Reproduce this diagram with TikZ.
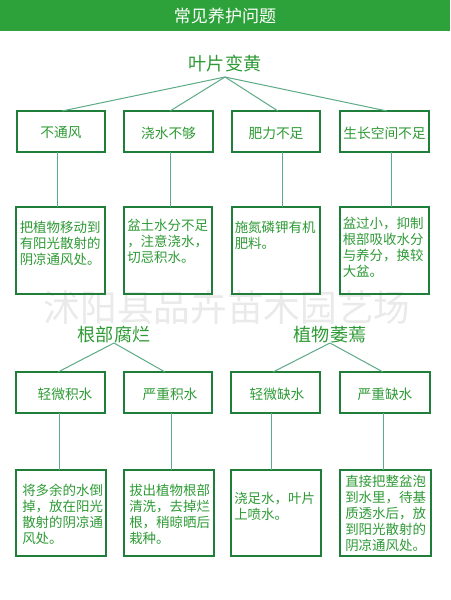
\documentclass[tikz,border=0pt]{standalone}
\usepackage{fontspec}
\setmainfont{Noto Sans CJK SC}
\newfontfamily\cjk{Noto Sans CJK SC}
\definecolor{hdrgreen}{HTML}{2EA23A}
\definecolor{txtgreen}{HTML}{2E9A35}
\definecolor{boxgreen}{HTML}{1F7F3A}
\definecolor{linegreen}{HTML}{5DAA86}
\definecolor{wmgray}{HTML}{EAEAEA}
\begin{document}
\begin{tikzpicture}[x=0.75pt,y=-0.75pt,
  lbl/.style={text=txtgreen,font=\cjk\fontsize{10.3pt}{12pt}\selectfont},
  body/.style={text=txtgreen,font=\cjk\fontsize{10.1pt}{12pt}\selectfont,align=left,anchor=north west,inner sep=0pt},
  head/.style={text=txtgreen,font=\cjk\fontsize{13.6pt}{16pt}\selectfont},
  boxline/.style={draw=boxgreen,line width=1.1pt},
  conn/.style={draw=linegreen,line width=0.75pt}]
\useasboundingbox (0,0) rectangle (450,600);
\fill[white] (0,0) rectangle (450,600);
\fill[hdrgreen] (0,0) rectangle (450,31);
\node[text=white,font=\cjk\fontsize{12.8pt}{15pt}\selectfont] (title) at (225,15.5) {常见养护问题};
% watermark
\node[text=wmgray,font=\cjk\fontsize{27.5pt}{30pt}\selectfont] (wm) at (227,308) {沭阳县品卉苗木园艺场};
% section 1
\node[head] (h1) at (225,64) {叶片变黄};
\coordinate (a1) at (225,77);
% row1 boxes
\draw[boxline] (17,111) rectangle (105,152);
\draw[boxline] (124,111) rectangle (213,152);
\draw[boxline] (232,111) rectangle (320,152);
\draw[boxline] (340,111) rectangle (429,152);
\node[lbl] (b1) at (61,133) {不通风};
\node[lbl] (b2) at (168.5,133) {浇水不够};
\node[lbl] (b3) at (276,133) {肥力不足};
\node[lbl] (b4) at (384.5,133) {生长空间不足};
\coordinate (b1t) at (62,111);
\coordinate (b2t) at (170,111);
\coordinate (b3t) at (278,111);
\coordinate (b4t) at (387,111);
\draw[conn] (a1) -- (b1t);
\draw[conn] (a1) -- (b2t);
\draw[conn] (a1) -- (b3t);
\draw[conn] (a1) -- (b4t);
% row2 boxes
\draw[boxline] (16,207) rectangle (105,294);
\draw[boxline] (124,207) rectangle (212,294);
\draw[boxline] (232,207) rectangle (320,294);
\draw[boxline] (340,207) rectangle (429,294);
\coordinate (b1b) at (57,152); \coordinate (c1t) at (57,207);
\coordinate (b2b) at (170,152); \coordinate (c2t) at (170,207);
\coordinate (b3b) at (282,152); \coordinate (c3t) at (282,207);
\coordinate (b4b) at (391,152); \coordinate (c4t) at (391,207);
\draw[conn] (b1b) -- (c1t);
\draw[conn] (b2b) -- (c2t);
\draw[conn] (b3b) -- (c3t);
\draw[conn] (b4b) -- (c4t);
\node[body] (c1) at (19.5,221) {把植物移动到\\有阳光散射的\\阴凉通风处。};
\node[body] (c2) at (127,219) {盆土水分不足\\，注意浇水，\\切忌积水。};
\node[body] (c3) at (234.5,221) {施氮磷钾有机\\肥料。};
\node[body] (c4) at (342.5,217) {盆过小，抑制\\根部吸收水分\\与养分，换较\\大盆。};
% section 2
\node[head] (h2) at (114,335) {根部腐烂};
\node[head] (h3) at (330,335) {植物萎蔫};
\coordinate (a2) at (114,343);
\coordinate (a3) at (330,343);
\draw[boxline] (16,372) rectangle (105,413);
\draw[boxline] (124,372) rectangle (212,413);
\draw[boxline] (231,372) rectangle (320,413);
\draw[boxline] (340,372) rectangle (430,413);
\node[lbl] (d1) at (65,394) {轻微积水};
\node[lbl] (d2) at (170,394) {严重积水};
\node[lbl] (d3) at (277,394) {轻微缺水};
\node[lbl] (d4) at (385,394) {严重缺水};
\coordinate (d1t) at (58,372);
\coordinate (d2t) at (165,372);
\coordinate (d3t) at (273,372);
\coordinate (d4t) at (383,372);
\draw[conn] (a2) -- (d1t);
\draw[conn] (a2) -- (d2t);
\draw[conn] (a3) -- (d3t);
\draw[conn] (a3) -- (d4t);
% row4
\draw[boxline] (16,470) rectangle (106,556);
\draw[boxline] (124,470) rectangle (214,556);
\draw[boxline] (231,470) rectangle (321,556);
\draw[boxline] (340,470) rectangle (431,556);
\coordinate (d1b) at (59,413); \coordinate (e1t) at (59,470);
\coordinate (d2b) at (171,413); \coordinate (e2t) at (171,470);
\coordinate (d3b) at (271,413); \coordinate (e3t) at (271,470);
\coordinate (d4b) at (383,413); \coordinate (e4t) at (383,470);
\draw[conn] (d1b) -- (e1t);
\draw[conn] (d2b) -- (e2t);
\draw[conn] (d3b) -- (e3t);
\draw[conn] (d4b) -- (e4t);
\node[body] (e1) at (22,484) {将多余的水倒\\掉，放在阳光\\散射的阴凉通\\风处。};
\node[body] (e2) at (129,484) {拔出植物根部\\清洗，去掉烂\\根，稍晾晒后\\栽种。};
\node[body] (e3) at (234,492) {浇足水，叶片\\上喷水。};
\node[body] (e4) at (345,475) {直接把整盆泡\\到水里，待基\\质透水后，放\\到阳光散射的\\阴凉通风处。};
\end{tikzpicture}
\end{document}
